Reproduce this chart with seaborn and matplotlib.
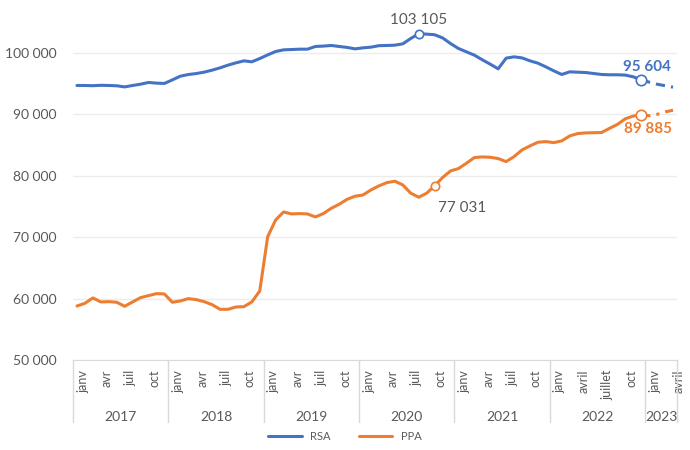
import numpy as np
import pandas as pd
import matplotlib
matplotlib.use("Agg")
import matplotlib.pyplot as plt
import matplotlib.transforms as mtransforms
import seaborn as sns

# donnees mensuelles janv 2017 -> avril 2023
rsa = [94690, 94690, 94650, 94720, 94690, 94640, 94460, 94690, 94900, 95180, 95070, 95020,
       95600, 96200, 96470, 96630, 96860, 97180, 97560, 98000, 98370, 98700, 98540, 99080,
       99670, 100220, 100490, 100540, 100600, 100600, 101040, 101100, 101200, 101040, 100880, 100650,
       100820, 100930, 101170, 101200, 101250, 101470, 102340, 103105, 103050, 102950, 102440, 101520,
       100710, 100170, 99630, 98870, 98160, 97400, 99140, 99350, 99180, 98700, 98320, 97720,
       97070, 96480, 96910, 96850, 96800, 96640, 96480, 96430, 96430, 96380, 96100, 95604,
       95230, 94900, 94650, 94410]
ppa = [58790, 59230, 60100, 59450, 59500, 59400, 58740, 59450, 60150, 60480, 60800, 60750,
       59400, 59610, 59990, 59830, 59500, 59010, 58250, 58250, 58630, 58680, 59450, 61240,
       70090, 72800, 74100, 73780, 73830, 73780, 73290, 73830, 74700, 75360, 76170, 76660,
       76870, 77690, 78350, 78880, 79100, 78500, 77150, 76500, 77150, 78340, 79700, 80780,
       81160, 82030, 82950, 83060, 83000, 82790, 82300, 83110, 84200, 84850, 85450, 85550,
       85390, 85670, 86480, 86860, 86970, 87000, 87030, 87700, 88350, 89270, 89710, 89885,
       89770, 89990, 90390, 90660]
last_obs = 71  # dec 2022, ensuite prevision

years = ["2017", "2018", "2019", "2020", "2021", "2022", "2023"]
month_labels = (["janv", "avr", "juil", "oct"] * 5
                + ["janv", "avril", "juillet", "oct"]
                + ["janv", "avril"])

# points annotes : (index, texte)
rsa_notes = [(43, "103 105"), (71, "95 604")]
ppa_notes = [(45, "77 031"), (71, "89 885")]

BLUE = "#4472C4"
ORANGE = "#ED7D31"
GREY = "#595959"

sns.set_style("white")
plt.rcParams['font.family'] = ['Lato', 'DejaVu Sans']

n = len(rsa)
df = pd.DataFrame({"mois": np.arange(n), "RSA": rsa, "PPA": ppa})
obs = df[df["mois"] <= last_obs]
prev = df[df["mois"] >= last_obs]

fig = plt.figure(figsize=(6.9, 4.5), dpi=100)
ax = fig.add_axes([73 / 690, 90 / 450, 604 / 690, 344 / 450])

sns.lineplot(data=obs, x="mois", y="RSA", color=BLUE, lw=2.2, ax=ax, label="RSA")
sns.lineplot(data=obs, x="mois", y="PPA", color=ORANGE, lw=2.2, ax=ax, label="PPA")
sns.lineplot(data=prev, x="mois", y="RSA", color=BLUE, lw=2.2, ax=ax,
             linestyle=(0, (3, 2)), legend=False)
sns.lineplot(data=prev, x="mois", y="PPA", color=ORANGE, lw=2.2, ax=ax,
             linestyle=(0, (3, 2, 1, 2)), legend=False)

for col, notes, color in [("RSA", rsa_notes, BLUE), ("PPA", ppa_notes, ORANGE)]:
    for i, txt in notes:
        ms = 7.5 if i == last_obs else 6
        ax.plot(i, df[col][i], "o", ms=ms, mfc="white", mec=color, mew=1.2, zorder=5)

ax.annotate(rsa_notes[0][1], (43, rsa[43]), xytext=(0, 5), textcoords="offset points",
            ha="center", va="bottom", fontsize=11, color=GREY)
ax.annotate(rsa_notes[1][1], (71, rsa[71]), xytext=(4, 4), textcoords="offset points",
            ha="center", va="bottom", fontsize=11, color=BLUE, fontweight="bold")
ax.annotate(ppa_notes[0][1], (45, ppa[45]), xytext=(20, -16), textcoords="offset points",
            ha="center", va="center", fontsize=11, color=GREY)
ax.annotate(ppa_notes[1][1], (71, ppa[71]), xytext=(5, -10), textcoords="offset points",
            ha="center", va="center", fontsize=11, color=ORANGE, fontweight="bold")

ax.set_xlim(-0.5, n - 0.5)
ax.set_ylim(50000, 106000)
ax.set_yticks(np.arange(50000, 100001, 10000))
ax.set_yticklabels([f"{v:,}".replace(",", " ") for v in range(50000, 100001, 10000)],
                   fontsize=10, color=GREY)
ax.yaxis.grid(True, color="#ececec", lw=1)
ax.tick_params(axis="y", length=0, pad=12)

ax.set_xticks(np.arange(0, n, 3))
ax.set_xticklabels(month_labels, rotation=90, ha="left", va="top", fontsize=9, color=GREY)
ax.tick_params(axis="x", length=0, pad=7)
ax.set_xlabel("")
ax.set_ylabel("")

for s in ["top", "right", "left"]:
    ax.spines[s].set_visible(False)
ax.spines["bottom"].set_color("#d9d9d9")

# separateurs d'annees et libelles
trans = mtransforms.blended_transform_factory(ax.transData, ax.transAxes)
bounds = list(range(0, n, 12)) + [n]
for b in bounds:
    ax.plot([b - 0.5, b - 0.5], [0, -0.18], color="#d9d9d9", lw=1,
            transform=trans, clip_on=False)
for k, yr in enumerate(years):
    x0 = bounds[k] - 0.5
    x1 = bounds[k + 1] - 0.5
    ax.text((x0 + x1) / 2, -0.166, yr, transform=trans, ha="center", va="center",
            fontsize=10, color=GREY)

handles, labels = ax.get_legend_handles_labels()
ax.get_legend().remove()
fig.legend(handles, labels, loc="center", bbox_to_anchor=(0.5, 14 / 450), ncol=2,
           frameon=False, fontsize=8, handlelength=3, columnspacing=2.5,
           labelcolor=GREY)

fig.savefig("out.png", dpi=100)
